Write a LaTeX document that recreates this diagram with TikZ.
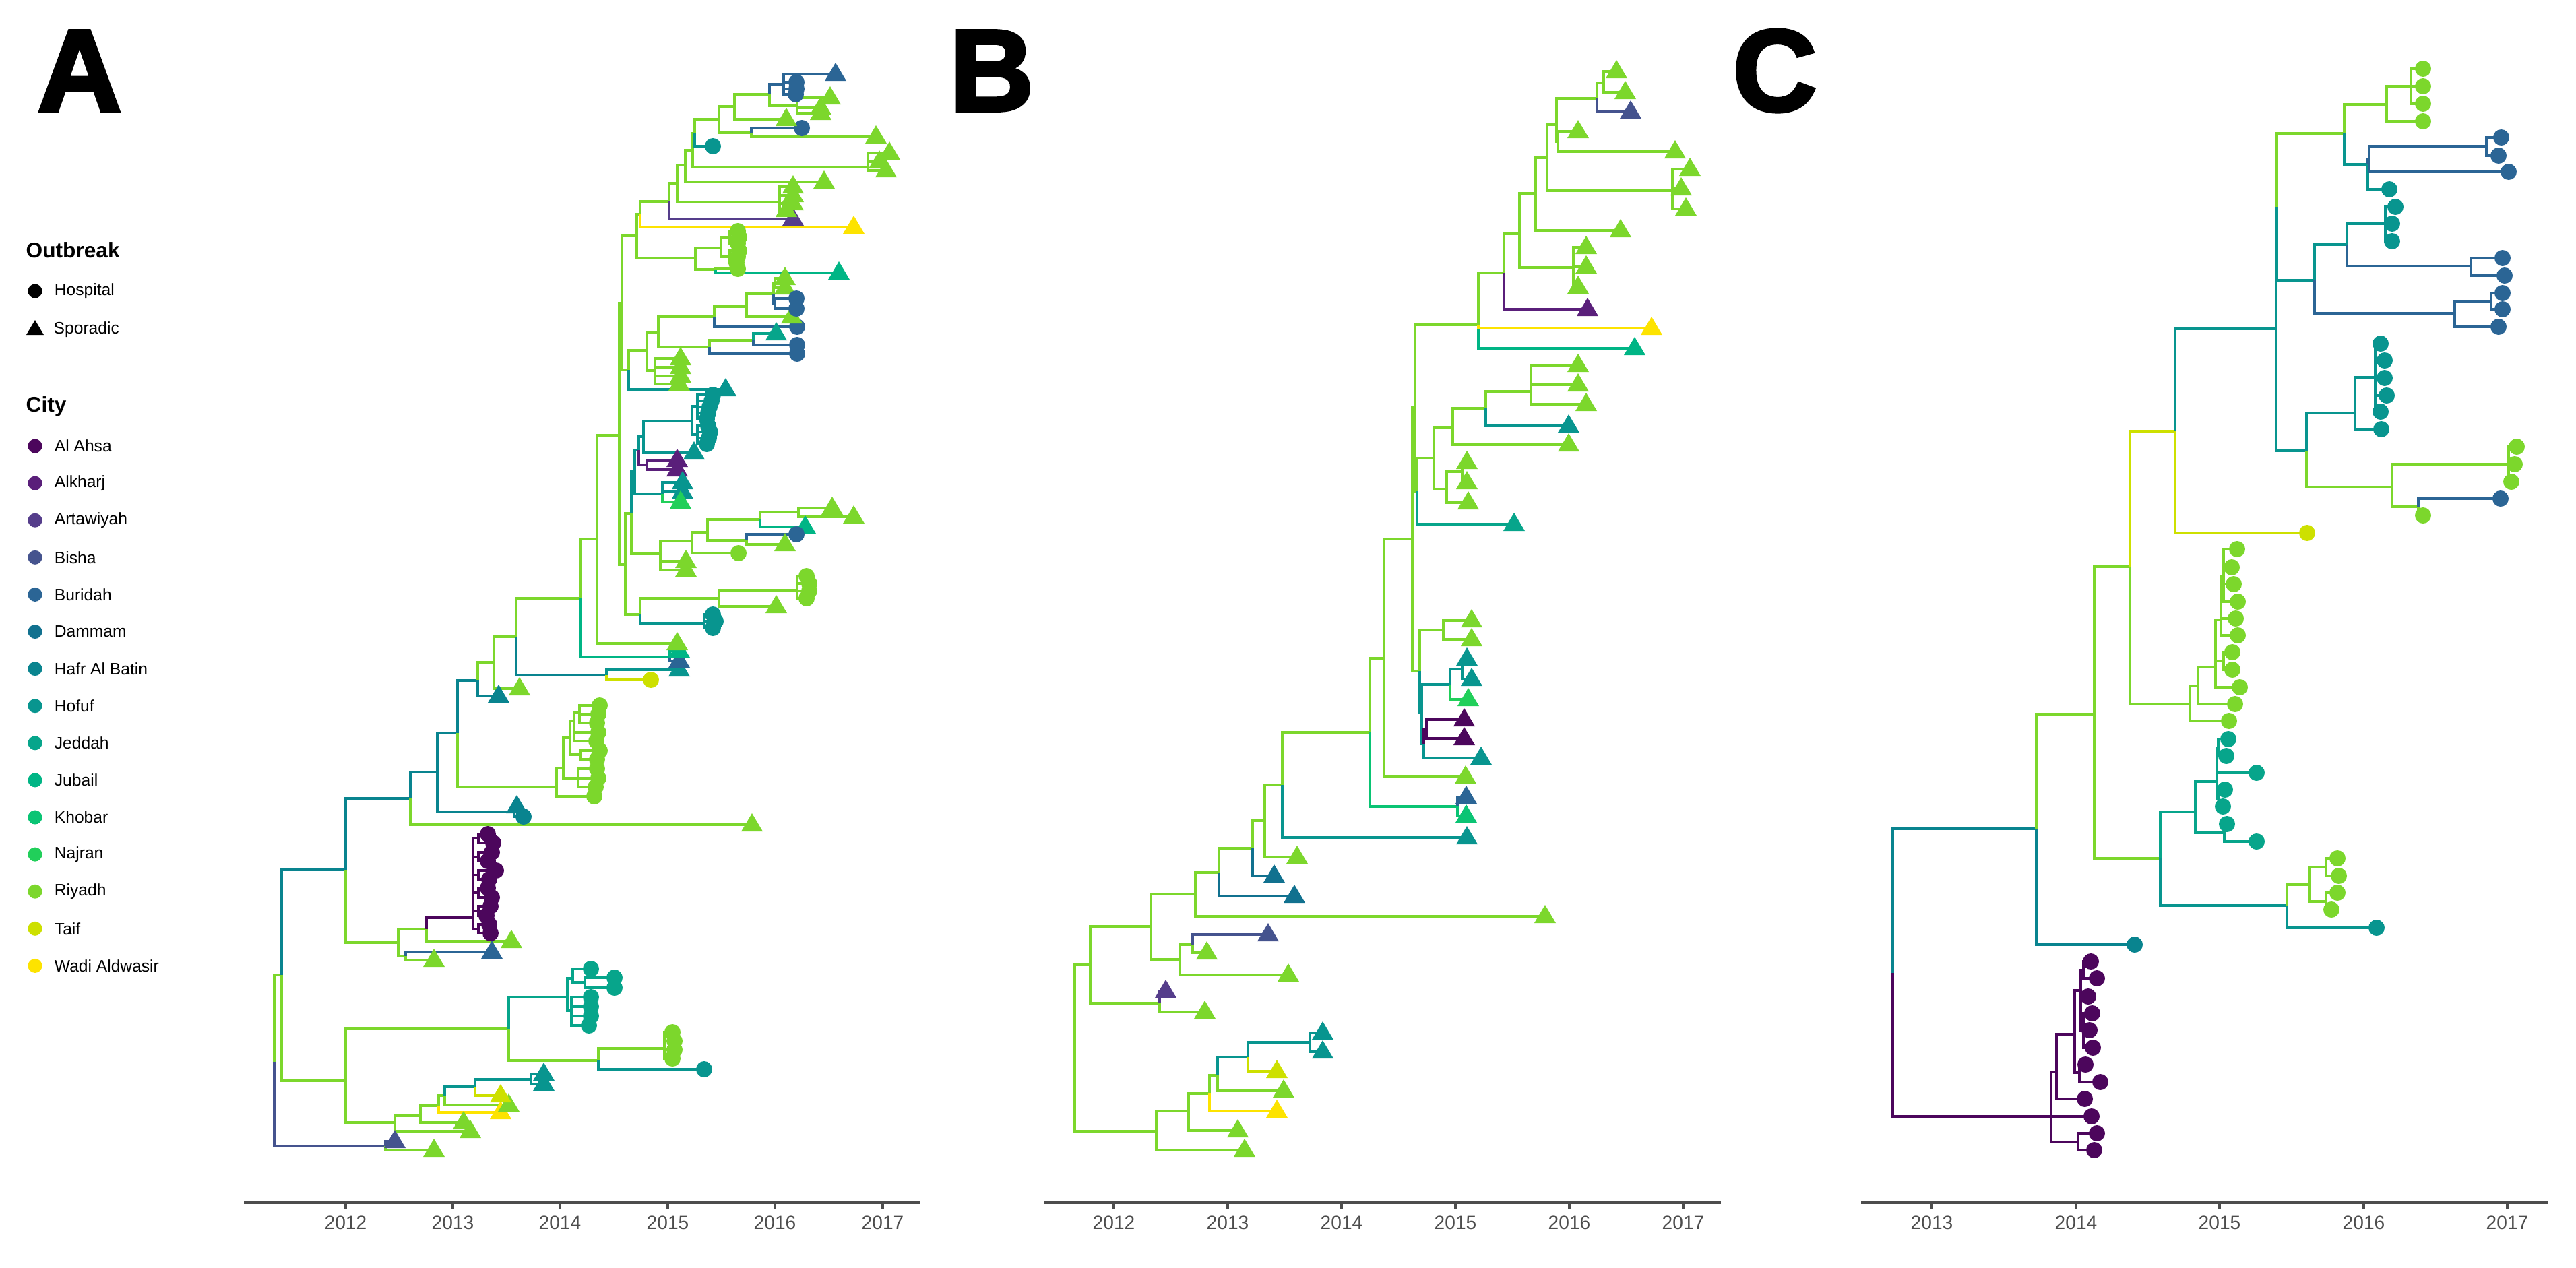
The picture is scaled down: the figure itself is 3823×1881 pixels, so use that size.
\documentclass[tikz,border=0pt]{standalone}
\usepackage{fontspec}
\setmainfont{Liberation Sans}
\newfontfamily\heavyfont[FakeBold=3]{Liberation Sans Bold}
\usetikzlibrary{positioning}
\pgfdeclarelayer{fg}
\pgfsetlayers{main,fg}
\definecolor{alahsa}{HTML}{4C065C}
\definecolor{alkharj}{HTML}{5A1F7A}
\definecolor{artaw}{HTML}{553D8B}
\definecolor{bisha}{HTML}{45538E}
\definecolor{burid}{HTML}{2B6595}
\definecolor{damm}{HTML}{11718F}
\definecolor{hafr}{HTML}{09848F}
\definecolor{hofuf}{HTML}{08958F}
\definecolor{jedd}{HTML}{07A58B}
\definecolor{jub}{HTML}{00B585}
\definecolor{khob}{HTML}{0AC474}
\definecolor{najr}{HTML}{21CF5A}
\definecolor{riy}{HTML}{7CD72C}
\definecolor{taif}{HTML}{CDE000}
\definecolor{wadi}{HTML}{FDE300}
\definecolor{axisgray}{HTML}{4D4D4D}
\tikzset{
  edge/.style={line width=1.05pt},
  axisline/.style={draw=axisgray, line width=1pt},
  ticklab/.style={anchor=north, inner sep=0pt, text=axisgray, font=\fontsize{8}{9}\selectfont},
  panel/.style={inner sep=0pt, font=\heavyfont\fontsize{49}{51}\selectfont},
  legtitle/.style={anchor=west, inner sep=0pt, font=\bfseries\fontsize{9}{10}\selectfont},
  legitem/.style={anchor=west, inner sep=0pt, font=\fontsize{7}{8}\selectfont},
  legdot/.style={circle, inner sep=0pt, minimum size=0.21cm},
}
% branch: colour, parent, child
\newcommand\br[3]{\draw[edge,#1] #2 |- #3;}
% hospital tip (circle) and sporadic tip (triangle)
\newcommand\hc[3]{\br{#1}{#2}{#3}\begin{pgfonlayer}{fg}\fill[#1] #3 circle (12);\end{pgfonlayer}}
\newcommand\st[3]{\br{#1}{#2}{#3}\begin{pgfonlayer}{fg}\fill[#1] #3 ++(-16,10) -- ++(32,0) -- ++(-16,-27) -- cycle;\end{pgfonlayer}}

\begin{document}
\begin{tikzpicture}[x=0.01cm, y=-0.01cm]
\useasboundingbox (0,0) rectangle (3823,1881);

% panel letters
\node[panel] (labA) at (118,105) {A};
\node[panel] (labB) at (1472,105) {B};
\node[panel] (labC) at (2634,105) {C};

% legend
\node[legtitle] (lgOut) at (38,371) {Outbreak};
\node[legdot, fill=black] (lgHosp) at (52,432) {};
\node[legitem, right=0.17cm of lgHosp] {Hospital};
\fill[black] (52,489) ++(-13,8) -- ++(26,0) -- ++(-13,-22) -- cycle;
\coordinate (lgSpor) at (62,489);
\node[legitem, right=0.17cm of lgSpor] {Sporadic};
\node[legtitle] (lgCity) at (38,603) {City};
\foreach \col/\name [count=\i from 0] in {alahsa/Al Ahsa, alkharj/Alkharj, artaw/Artawiyah, bisha/Bisha, burid/Buridah, damm/Dammam, hafr/Hafr Al Batin, hofuf/Hofuf, jedd/Jeddah, jub/Jubail, khob/Khobar, najr/Najran, riy/Riyadh, taif/Taif, wadi/Wadi Aldwasir}{
  \node[legdot, fill=\col] (lg\i) at (52,{662+55.1*\i}) {};
  \node[legitem, right=0.17cm of lg\i] {\name};
}

% axes
\draw[axisline] (362,1785) -- (1366,1785);
\foreach \yr/\x in {2012/513, 2013/672, 2014/831, 2015/991, 2016/1150, 2017/1310}{
  \draw[axisline] (\x,1785) -- (\x,1795);
  \node[ticklab] at (\x,1804) {\yr};
}
\draw[axisline] (1549,1785) -- (2554,1785);
\foreach \yr/\x in {2012/1653, 2013/1822, 2014/1991, 2015/2160, 2016/2329, 2017/2498}{
  \draw[axisline] (\x,1785) -- (\x,1795);
  \node[ticklab] at (\x,1804) {\yr};
}
\draw[axisline] (2762,1785) -- (3781,1785);
\foreach \yr/\x in {2013/2867, 2014/3081, 2015/3294, 2016/3508, 2017/3721}{
  \draw[axisline] (\x,1785) -- (\x,1795);
  \node[ticklab] at (\x,1804) {\yr};
}

% ---------------- tree A ----------------
\br{riy}{(407,1576)}{(418,1447)}
\br{bisha}{(407,1576)}{(572,1701)}
\st{bisha}{(572,1701)}{(586,1694)}
\st{riy}{(572,1701)}{(644,1707)}
\br{hafr}{(418,1447)}{(513,1291)}
\br{riy}{(418,1447)}{(513,1604)}
\br{hafr}{(513,1291)}{(609,1185)}
\br{riy}{(513,1291)}{(591,1399)}
\br{hafr}{(609,1185)}{(649,1146)}
\st{riy}{(609,1185)}{(1116,1224)}
\br{hafr}{(649,1146)}{(679,1088)}
\br{hafr}{(649,1146)}{(763,1205)}
\st{hafr}{(763,1205)}{(767,1197)}
\hc{hafr}{(763,1205)}{(777,1212)}
\br{hafr}{(679,1088)}{(709,1010)}
\br{riy}{(679,1088)}{(826,1168)}
\hc{riy}{(826,1168)}{(882,1182)}
\br{riy}{(826,1168)}{(836,1140)}
\br{riy}{(836,1140)}{(846,1095)}
\br{riy}{(836,1140)}{(858,1155)}
\hc{riy}{(858,1155)}{(886,1141)}
\hc{riy}{(858,1155)}{(888,1155)}
\hc{riy}{(858,1155)}{(884,1168)}
\br{riy}{(846,1095)}{(852,1070)}
\br{riy}{(846,1095)}{(862,1120)}
\hc{riy}{(862,1120)}{(890,1114)}
\hc{riy}{(862,1120)}{(886,1127)}
\hc{riy}{(852,1070)}{(888,1087)}
\hc{riy}{(852,1070)}{(885,1100)}
\br{riy}{(852,1070)}{(860,1058)}
\hc{riy}{(860,1058)}{(890,1047)}
\hc{riy}{(860,1058)}{(888,1060)}
\hc{riy}{(860,1058)}{(886,1073)}
\br{riy}{(709,1010)}{(733,983)}
\st{hafr}{(709,1010)}{(740,1033)}
\br{riy}{(733,983)}{(766,945)}
\st{riy}{(733,983)}{(771,1022)}
\br{riy}{(766,945)}{(861,888)}
\br{hafr}{(766,945)}{(900,1002)}
\st{hofuf}{(900,1002)}{(1008,994)}
\hc{taif}{(900,1002)}{(966,1009)}
\br{riy}{(861,888)}{(886,800)}
\br{jub}{(861,888)}{(994,975)}
\st{burid}{(994,975)}{(1008,981)}
\st{jub}{(994,975)}{(1008,966)}
\br{riy}{(886,800)}{(919,646)}
\st{riy}{(886,800)}{(1005,955)}
\br{riy}{(919,646)}{(923,450)}
\br{riy}{(919,646)}{(928,838)}
% upper block
\br{riy}{(923,450)}{(945,350)}
\br{riy}{(923,450)}{(933,549)}
\br{riy}{(933,549)}{(960,520)}
\st{hofuf}{(933,549)}{(1077,578)}
\br{riy}{(960,520)}{(977,493)}
\br{riy}{(960,520)}{(972,550)}
\st{riy}{(972,550)}{(1010,532)}
\st{riy}{(972,550)}{(1010,545)}
\st{riy}{(972,550)}{(1010,558)}
\st{riy}{(972,550)}{(1008,570)}
\br{riy}{(977,493)}{(1060,470)}
\br{riy}{(977,493)}{(1053,515)}
\br{riy}{(1060,470)}{(1108,455)}
\hc{burid}{(1060,470)}{(1183,485)}
\br{riy}{(1108,455)}{(1148,436)}
\st{riy}{(1108,455)}{(1175,470)}
\br{riy}{(1148,436)}{(1150,420)}
\st{riy}{(1150,420)}{(1165,413)}
\st{riy}{(1150,420)}{(1165,427)}
\br{burid}{(1148,436)}{(1150,450)}
\hc{burid}{(1150,450)}{(1182,443)}
\hc{burid}{(1150,450)}{(1182,458)}
\br{riy}{(1053,515)}{(1118,505)}
\hc{burid}{(1053,515)}{(1183,525)}
\st{jedd}{(1118,505)}{(1152,495)}
\hc{burid}{(1118,505)}{(1183,512)}
\br{riy}{(945,350)}{(950,318)}
\br{riy}{(945,350)}{(1032,383)}
\br{riy}{(950,318)}{(993,299)}
\st{wadi}{(950,318)}{(1267,337)}
\br{riy}{(993,299)}{(1005,272)}
\st{artaw}{(993,299)}{(1177,325)}
\br{riy}{(1005,272)}{(1017,245)}
\br{riy}{(1005,272)}{(1157,300)}
\st{riy}{(1157,300)}{(1177,277)}
\st{riy}{(1157,300)}{(1177,290)}
\st{riy}{(1157,300)}{(1177,302)}
\st{riy}{(1157,300)}{(1167,312)}
\br{riy}{(1017,245)}{(1028,223)}
\st{riy}{(1017,245)}{(1223,270)}
\br{riy}{(1028,223)}{(1031,198)}
\br{riy}{(1028,223)}{(1288,248)}
\st{riy}{(1288,248)}{(1320,227)}
\st{riy}{(1288,248)}{(1305,240)}
\st{riy}{(1288,248)}{(1315,253)}
\br{riy}{(1031,198)}{(1067,177)}
\hc{hofuf}{(1031,198)}{(1058,217)}
\br{riy}{(1067,177)}{(1090,158)}
\br{riy}{(1067,177)}{(1115,197)}
\hc{burid}{(1115,197)}{(1190,190)}
\st{riy}{(1115,197)}{(1300,203)}
\br{riy}{(1090,158)}{(1142,140)}
\st{riy}{(1090,158)}{(1167,177)}
\br{burid}{(1142,140)}{(1163,125)}
\br{riy}{(1142,140)}{(1183,157)}
\st{burid}{(1163,125)}{(1240,110)}
\hc{burid}{(1163,125)}{(1182,122)}
\hc{burid}{(1163,125)}{(1182,132)}
\hc{burid}{(1163,125)}{(1181,140)}
\st{riy}{(1183,157)}{(1232,145)}
\st{riy}{(1183,157)}{(1218,160)}
\st{riy}{(1183,157)}{(1218,168)}
\br{riy}{(1032,383)}{(1070,368)}
\br{riy}{(1032,383)}{(1062,400)}
\br{riy}{(1070,368)}{(1083,352)}
\br{riy}{(1070,368)}{(1083,381)}
\hc{riy}{(1083,352)}{(1095,343)}
\hc{riy}{(1083,352)}{(1097,352)}
\hc{riy}{(1083,352)}{(1095,361)}
\hc{riy}{(1083,381)}{(1097,372)}
\hc{riy}{(1083,381)}{(1095,381)}
\hc{riy}{(1083,381)}{(1093,390)}
\hc{riy}{(1062,400)}{(1095,399)}
\st{jub}{(1062,400)}{(1245,405)}
% middle block
\br{riy}{(928,838)}{(937,762)}
\br{riy}{(928,838)}{(950,912)}
\br{hofuf}{(937,762)}{(942,700)}
\br{riy}{(937,762)}{(980,822)}
\br{hofuf}{(942,700)}{(948,668)}
\br{hofuf}{(942,700)}{(983,733)}
\br{hofuf}{(948,668)}{(955,648)}
\br{alkharj}{(948,668)}{(960,690)}
\br{hofuf}{(955,648)}{(1027,625)}
\st{hofuf}{(955,648)}{(1030,672)}
\br{hofuf}{(1027,625)}{(1035,603)}
\br{hofuf}{(1027,625)}{(1035,645)}
\hc{hofuf}{(1035,603)}{(1058,586)}
\hc{hofuf}{(1035,603)}{(1056,595)}
\hc{hofuf}{(1035,603)}{(1053,604)}
\hc{hofuf}{(1035,603)}{(1051,613)}
\hc{hofuf}{(1035,603)}{(1049,622)}
\hc{hofuf}{(1035,645)}{(1051,632)}
\hc{hofuf}{(1035,645)}{(1054,641)}
\hc{hofuf}{(1035,645)}{(1052,650)}
\hc{hofuf}{(1035,645)}{(1049,659)}
\st{alkharj}{(960,690)}{(1005,683)}
\st{alkharj}{(960,690)}{(1005,697)}
\st{hofuf}{(983,733)}{(1013,716)}
\st{hofuf}{(983,733)}{(1013,730)}
\st{najr}{(983,733)}{(1010,745)}
\br{riy}{(980,822)}{(1027,803)}
\st{riy}{(980,822)}{(1018,833)}
\st{riy}{(980,822)}{(1018,846)}
\br{riy}{(1027,803)}{(1050,790)}
\hc{riy}{(1027,803)}{(1096,821)}
\br{riy}{(1050,790)}{(1128,771)}
\br{riy}{(1050,790)}{(1108,802)}
\br{riy}{(1128,771)}{(1185,760)}
\st{jub}{(1128,771)}{(1195,782)}
\st{riy}{(1185,760)}{(1235,754)}
\st{riy}{(1185,760)}{(1267,767)}
\hc{burid}{(1108,802)}{(1182,793)}
\st{riy}{(1108,802)}{(1165,808)}
\br{riy}{(950,912)}{(1067,888)}
\br{hofuf}{(950,912)}{(1045,925)}
\br{riy}{(1067,888)}{(1183,876)}
\st{riy}{(1067,888)}{(1152,900)}
\hc{riy}{(1183,876)}{(1197,855)}
\hc{riy}{(1183,876)}{(1201,866)}
\hc{riy}{(1183,876)}{(1201,877)}
\hc{riy}{(1183,876)}{(1197,888)}
\hc{hofuf}{(1045,925)}{(1058,912)}
\hc{hofuf}{(1045,925)}{(1062,922)}
\hc{hofuf}{(1045,925)}{(1058,932)}
% lower block
\br{riy}{(591,1399)}{(633,1379)}
\br{riy}{(591,1399)}{(602,1419)}
\br{alahsa}{(633,1379)}{(702,1362)}
\st{riy}{(633,1379)}{(759,1397)}
\foreach \ya/\yb/\xa/\xb in {1238/1251/724/732, 1265/1278/730/724, 1292/1305/736/726, 1318/1332/724/730, 1345/1359/728/722, 1372/1385/726/728}{
  \pgfmathsetmacro\ym{(\ya+\yb)/2}
  \br{alahsa}{(702,1362)}{(710,\ym)}
  \hc{alahsa}{(710,\ym)}{(\xa,\ya)}
  \hc{alahsa}{(710,\ym)}{(\xb,\yb)}
}
\st{burid}{(602,1419)}{(730,1413)}
\st{riy}{(602,1419)}{(644,1425)}
\br{riy}{(513,1604)}{(755,1527)}
\br{riy}{(513,1604)}{(586,1666)}
\br{jedd}{(755,1527)}{(842,1480)}
\br{riy}{(755,1527)}{(888,1574)}
\br{jedd}{(842,1480)}{(850,1452)}
\br{jedd}{(842,1480)}{(848,1500)}
\hc{jedd}{(850,1452)}{(877,1438)}
\br{jedd}{(850,1452)}{(868,1458)}
\hc{jedd}{(868,1458)}{(912,1451)}
\hc{jedd}{(868,1458)}{(912,1466)}
\hc{jedd}{(848,1500)}{(877,1480)}
\hc{jedd}{(848,1500)}{(877,1494)}
\hc{jedd}{(848,1500)}{(877,1508)}
\hc{jedd}{(848,1500)}{(874,1522)}
\br{riy}{(888,1574)}{(986,1556)}
\hc{hofuf}{(888,1574)}{(1045,1587)}
\hc{riy}{(986,1556)}{(998,1532)}
\hc{riy}{(986,1556)}{(1001,1545)}
\hc{riy}{(986,1556)}{(1001,1558)}
\hc{riy}{(986,1556)}{(998,1571)}
\br{riy}{(586,1666)}{(624,1656)}
\st{riy}{(586,1666)}{(698,1679)}
\br{riy}{(624,1656)}{(651,1641)}
\st{riy}{(624,1656)}{(688,1666)}
\br{riy}{(651,1641)}{(660,1626)}
\st{wadi}{(651,1641)}{(743,1651)}
\br{hofuf}{(660,1626)}{(705,1613)}
\st{riy}{(660,1626)}{(755,1640)}
\br{hofuf}{(705,1613)}{(788,1602)}
\st{taif}{(705,1613)}{(743,1626)}
\st{hofuf}{(788,1602)}{(807,1594)}
\st{hofuf}{(788,1602)}{(807,1609)}

% ---------------- tree B ----------------
\br{riy}{(1595,1556)}{(1618,1432)}
\br{riy}{(1595,1556)}{(1716,1679)}
\br{riy}{(1716,1679)}{(1764,1649)}
\st{riy}{(1716,1679)}{(1847,1707)}
\br{riy}{(1764,1649)}{(1795,1623)}
\st{riy}{(1764,1649)}{(1837,1678)}
\br{riy}{(1795,1623)}{(1807,1596)}
\st{wadi}{(1795,1623)}{(1895,1649)}
\br{hofuf}{(1807,1596)}{(1852,1569)}
\st{riy}{(1807,1596)}{(1905,1619)}
\br{hofuf}{(1852,1569)}{(1944,1547)}
\st{taif}{(1852,1569)}{(1895,1590)}
\st{hofuf}{(1944,1547)}{(1963,1533)}
\st{hofuf}{(1944,1547)}{(1963,1561)}
\br{riy}{(1618,1432)}{(1708,1375)}
\br{riy}{(1618,1432)}{(1721,1489)}
\st{artaw}{(1721,1489)}{(1730,1471)}
\st{riy}{(1721,1489)}{(1788,1502)}
\br{riy}{(1708,1375)}{(1774,1327)}
\br{riy}{(1708,1375)}{(1751,1424)}
\br{riy}{(1751,1424)}{(1770,1402)}
\st{riy}{(1751,1424)}{(1912,1447)}
\st{bisha}{(1770,1402)}{(1882,1387)}
\st{riy}{(1770,1402)}{(1791,1414)}
\br{riy}{(1774,1327)}{(1809,1295)}
\st{riy}{(1774,1327)}{(2293,1360)}
\br{riy}{(1809,1295)}{(1859,1259)}
\st{damm}{(1809,1295)}{(1921,1330)}
\br{riy}{(1859,1259)}{(1877,1218)}
\st{damm}{(1859,1259)}{(1891,1300)}
\br{riy}{(1877,1218)}{(1903,1165)}
\st{riy}{(1877,1218)}{(1925,1272)}
\br{riy}{(1903,1165)}{(2033,1087)}
\st{hofuf}{(1903,1165)}{(2177,1243)}
\br{riy}{(2033,1087)}{(2054,977)}
\br{khob}{(2033,1087)}{(2163,1197)}
\st{burid}{(2163,1197)}{(2176,1183)}
\st{khob}{(2163,1197)}{(2176,1211)}
\br{riy}{(2054,977)}{(2096,800)}
\st{riy}{(2054,977)}{(2175,1153)}
\br{riy}{(2096,800)}{(2100,605)}
\br{riy}{(2096,800)}{(2107,996)}
\br{riy}{(2100,605)}{(2194,482)}
\br{riy}{(2100,605)}{(2103,729)}
\br{riy}{(2103,729)}{(2128,680)}
\st{jedd}{(2103,729)}{(2247,778)}
\br{riy}{(2128,680)}{(2156,634)}
\br{riy}{(2128,680)}{(2147,726)}
\br{riy}{(2156,634)}{(2205,606)}
\st{riy}{(2156,634)}{(2328,660)}
\br{riy}{(2205,606)}{(2272,581)}
\st{hofuf}{(2205,606)}{(2328,632)}
\st{riy}{(2272,581)}{(2342,542)}
\st{riy}{(2272,581)}{(2342,571)}
\st{riy}{(2272,581)}{(2354,600)}
\br{riy}{(2147,726)}{(2170,700)}
\st{riy}{(2170,700)}{(2177,686)}
\st{riy}{(2170,700)}{(2177,716)}
\st{riy}{(2147,726)}{(2179,746)}
\st{jub}{(2194,482)}{(2426,517)}
\st{wadi}{(2194,482)}{(2451,487)}
\br{riy}{(2194,482)}{(2232,405)}
\br{riy}{(2232,405)}{(2255,347)}
\st{alkharj}{(2232,405)}{(2356,459)}
\br{riy}{(2255,347)}{(2279,287)}
\br{riy}{(2255,347)}{(2335,397)}
\st{riy}{(2335,397)}{(2354,367)}
\st{riy}{(2335,397)}{(2354,396)}
\st{riy}{(2335,397)}{(2342,426)}
\br{riy}{(2279,287)}{(2296,234)}
\st{riy}{(2279,287)}{(2405,342)}
\br{riy}{(2296,234)}{(2310,185)}
\br{riy}{(2296,234)}{(2482,283)}
\st{riy}{(2482,283)}{(2508,251)}
\st{riy}{(2482,283)}{(2495,280)}
\st{riy}{(2482,283)}{(2502,310)}
\br{riy}{(2310,185)}{(2370,146)}
\br{riy}{(2310,185)}{(2312,210)}
\st{riy}{(2312,210)}{(2342,195)}
\st{riy}{(2312,210)}{(2486,225)}
\br{riy}{(2370,146)}{(2380,123)}
\st{bisha}{(2370,146)}{(2420,166)}
\st{riy}{(2380,123)}{(2399,106)}
\st{riy}{(2380,123)}{(2412,137)}
\br{riy}{(2107,996)}{(2142,935)}
\br{hofuf}{(2107,996)}{(2110,1058)}
\st{riy}{(2142,935)}{(2184,921)}
\st{riy}{(2142,935)}{(2184,949)}
\br{hofuf}{(2110,1058)}{(2152,1016)}
\br{hofuf}{(2110,1058)}{(2113,1104)}
\br{hofuf}{(2152,1016)}{(2170,993)}
\st{hofuf}{(2170,993)}{(2177,978)}
\st{hofuf}{(2170,993)}{(2184,1008)}
\st{najr}{(2152,1016)}{(2179,1038)}
\st{hofuf}{(2113,1104)}{(2198,1125)}
\br{alahsa}{(2113,1104)}{(2117,1083)}
\st{alahsa}{(2117,1083)}{(2173,1068)}
\st{alahsa}{(2117,1083)}{(2173,1096)}

% ---------------- tree C ----------------
\br{hafr}{(2809,1444)}{(3022,1230)}
\br{alahsa}{(2809,1444)}{(3044,1657)}
\br{alahsa}{(3044,1657)}{(3052,1591)}
\hc{alahsa}{(3044,1657)}{(3104,1657)}
\br{alahsa}{(3044,1657)}{(3084,1695)}
\hc{alahsa}{(3084,1695)}{(3112,1682)}
\hc{alahsa}{(3084,1695)}{(3108,1707)}
\br{alahsa}{(3052,1591)}{(3079,1535)}
\hc{alahsa}{(3052,1591)}{(3094,1631)}
\br{alahsa}{(3079,1535)}{(3088,1470)}
\br{alahsa}{(3079,1535)}{(3086,1592)}
\hc{alahsa}{(3086,1592)}{(3095,1580)}
\hc{alahsa}{(3086,1592)}{(3117,1606)}
\br{alahsa}{(3088,1470)}{(3092,1440)}
\hc{alahsa}{(3092,1440)}{(3103,1427)}
\hc{alahsa}{(3092,1440)}{(3112,1452)}
\hc{alahsa}{(3088,1470)}{(3099,1479)}
\br{alahsa}{(3088,1470)}{(3092,1530)}
\hc{alahsa}{(3092,1530)}{(3105,1504)}
\hc{alahsa}{(3092,1530)}{(3101,1529)}
\hc{alahsa}{(3092,1530)}{(3106,1555)}
\br{riy}{(3022,1230)}{(3108,1060)}
\hc{hafr}{(3022,1230)}{(3168,1402)}
\br{riy}{(3108,1060)}{(3161,841)}
\br{riy}{(3108,1060)}{(3206,1274)}
\br{taif}{(3161,841)}{(3228,640)}
\br{riy}{(3161,841)}{(3250,1045)}
\br{hofuf}{(3228,640)}{(3378,488)}
\hc{taif}{(3228,640)}{(3424,791)}
\br{hofuf}{(3378,488)}{(3379,307)}
\br{hofuf}{(3378,488)}{(3423,669)}
\br{riy}{(3379,307)}{(3479,198)}
\br{hofuf}{(3379,307)}{(3435,416)}
\br{riy}{(3479,198)}{(3542,155)}
\br{hofuf}{(3479,198)}{(3514,244)}
\br{riy}{(3542,155)}{(3578,128)}
\hc{riy}{(3578,128)}{(3596,102)}
\hc{riy}{(3578,128)}{(3596,128)}
\hc{riy}{(3578,128)}{(3596,154)}
\hc{riy}{(3542,155)}{(3596,180)}
\br{burid}{(3514,244)}{(3516,236)}
\hc{hofuf}{(3514,244)}{(3546,281)}
\br{burid}{(3516,236)}{(3690,217)}
\hc{burid}{(3516,236)}{(3723,255)}
\hc{burid}{(3690,217)}{(3712,204)}
\hc{burid}{(3690,217)}{(3708,231)}
\br{hofuf}{(3435,416)}{(3483,363)}
\br{burid}{(3435,416)}{(3643,465)}
\br{hofuf}{(3483,363)}{(3540,332)}
\br{burid}{(3483,363)}{(3667,395)}
\hc{hofuf}{(3540,332)}{(3555,307)}
\hc{hofuf}{(3540,332)}{(3550,332)}
\hc{hofuf}{(3540,332)}{(3550,358)}
\hc{burid}{(3667,395)}{(3714,383)}
\hc{burid}{(3667,395)}{(3717,409)}
\br{burid}{(3643,465)}{(3697,447)}
\hc{burid}{(3643,465)}{(3708,485)}
\hc{burid}{(3697,447)}{(3714,435)}
\hc{burid}{(3697,447)}{(3714,459)}
\br{hofuf}{(3423,669)}{(3495,613)}
\br{riy}{(3423,669)}{(3550,723)}
\br{hofuf}{(3495,613)}{(3525,560)}
\hc{hofuf}{(3495,613)}{(3534,637)}
\hc{hofuf}{(3525,560)}{(3533,510)}
\hc{hofuf}{(3525,560)}{(3539,535)}
\hc{hofuf}{(3525,560)}{(3539,561)}
\hc{hofuf}{(3525,560)}{(3542,587)}
\hc{hofuf}{(3525,560)}{(3533,611)}
\br{riy}{(3550,723)}{(3723,689)}
\br{riy}{(3550,723)}{(3589,752)}
\hc{riy}{(3723,689)}{(3735,663)}
\hc{riy}{(3723,689)}{(3732,689)}
\hc{riy}{(3723,689)}{(3727,715)}
\hc{burid}{(3589,752)}{(3711,740)}
\hc{riy}{(3589,752)}{(3596,765)}
\br{riy}{(3250,1045)}{(3262,1018)}
\hc{riy}{(3250,1045)}{(3308,1070)}
\br{riy}{(3262,1018)}{(3288,990)}
\hc{riy}{(3262,1018)}{(3317,1045)}
\br{riy}{(3288,990)}{(3296,920)}
\br{riy}{(3288,990)}{(3300,981)}
\hc{riy}{(3288,990)}{(3324,1020)}
\hc{riy}{(3300,981)}{(3313,968)}
\hc{riy}{(3300,981)}{(3313,994)}
\br{riy}{(3296,920)}{(3300,855)}
\hc{riy}{(3296,920)}{(3318,918)}
\hc{riy}{(3296,920)}{(3321,943)}
\hc{riy}{(3300,855)}{(3320,815)}
\hc{riy}{(3300,855)}{(3312,842)}
\hc{riy}{(3300,855)}{(3315,867)}
\hc{riy}{(3300,855)}{(3321,893)}
\br{jedd}{(3206,1274)}{(3258,1205)}
\br{hofuf}{(3206,1274)}{(3394,1344)}
\br{jedd}{(3258,1205)}{(3290,1160)}
\br{jedd}{(3258,1205)}{(3301,1236)}
\br{jedd}{(3290,1160)}{(3292,1110)}
\hc{jedd}{(3290,1160)}{(3349,1147)}
\br{jedd}{(3290,1160)}{(3293,1185)}
\hc{jedd}{(3292,1110)}{(3307,1097)}
\hc{jedd}{(3292,1110)}{(3304,1122)}
\hc{jedd}{(3293,1185)}{(3302,1172)}
\hc{jedd}{(3293,1185)}{(3299,1197)}
\hc{jedd}{(3301,1236)}{(3305,1223)}
\hc{jedd}{(3301,1236)}{(3349,1249)}
\br{riy}{(3394,1344)}{(3428,1313)}
\hc{hofuf}{(3394,1344)}{(3527,1377)}
\br{riy}{(3428,1313)}{(3452,1287)}
\br{riy}{(3428,1313)}{(3452,1338)}
\hc{riy}{(3452,1287)}{(3469,1274)}
\hc{riy}{(3452,1287)}{(3471,1300)}
\hc{riy}{(3452,1338)}{(3469,1325)}
\hc{riy}{(3452,1338)}{(3460,1350)}
\end{tikzpicture}
\end{document}
